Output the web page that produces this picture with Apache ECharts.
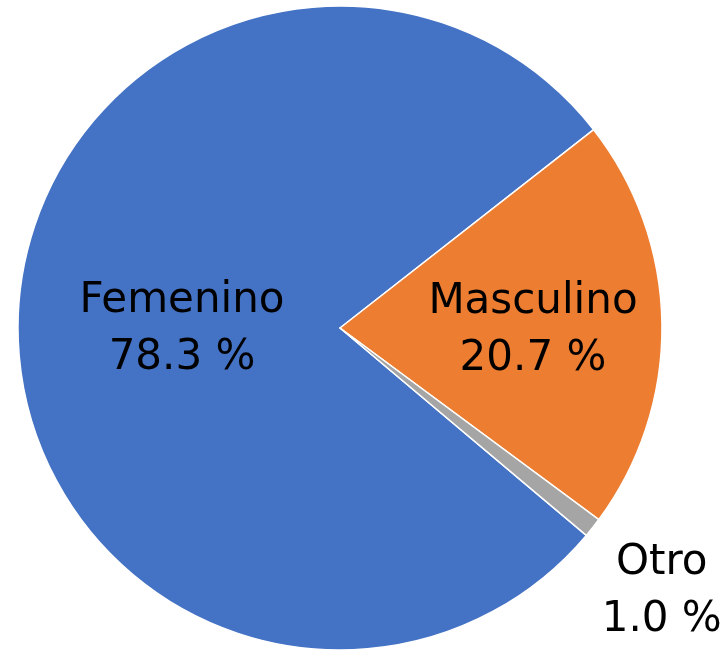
<!DOCTYPE html>
<html>
<head>
<meta charset="utf-8">
<script src="https://cdn.jsdelivr.net/npm/echarts@6/dist/echarts.min.js"></script>
<style>
  html, body { margin: 0; padding: 0; background: #fff; }
  #chart { width: 722px; height: 650px; }
</style>
</head>
<body>
<div id="chart"></div>
<script>
  let categories = ['Femenino', 'Masculino', 'Otro'];
  let values = [78.3, 20.7, 1.0];
  let myColor = ['#4472C4', '#ED7D31', '#A5A5A5'];

  let data = [];
  for (let i = 0; i < categories.length; i++) {
    data.push({ name: categories[i], value: values[i] });
  }

  let chart = echarts.init(document.getElementById('chart'));
  chart.setOption({
    color: myColor,
    animation: false,
    series: {
      type: 'pie',
      center: [340, 328],
      radius: [0, 322],
      clockwise: true,
      startAngle: -40.1,
      itemStyle: {
        borderColor: '#fff',
        borderWidth: 1.5
      },
      label: {
        show: true,
        position: 'inside',
        color: '#000',
        fontFamily: 'DejaVu Sans',
        fontSize: 42,
        lineHeight: 57,
        align: 'center',
        formatter: function (p) {
          return p.name + '\n' + p.value.toFixed(1) + ' %';
        }
      },
      labelLine: { show: false },
      // nudge labels where Excel put them
      labelLayout: function (p) {
        if (p.dataIndex === 1) return { dx: 29, dy: 5 };
        if (p.dataIndex === 2) return { dx: 193, dy: 162 };
        return { dx: 6, dy: 5 };
      },
      data: data
    }
  });
</script>
</body>
</html>
